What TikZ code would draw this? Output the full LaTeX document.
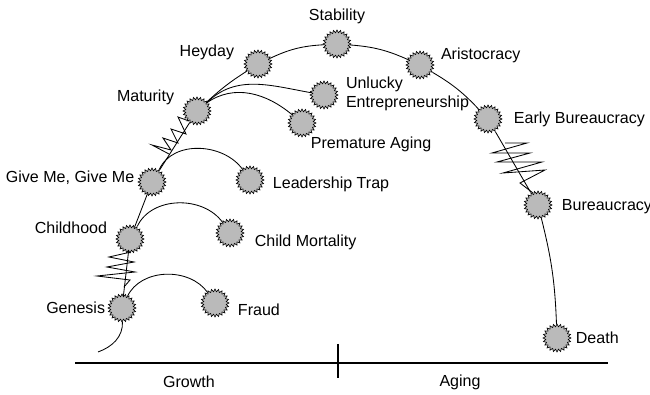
\documentclass[tikz,border=0pt]{standalone}
\usepackage{fontspec}
\setmainfont{Liberation Sans}
\usetikzlibrary{positioning,shapes.geometric}
\begin{document}
\begin{tikzpicture}[x=0.025cm,y=0.025cm]
\tikzstyle{lifeline} = [line width=0.6pt]
\tikzstyle{stage} = [star, star points=24, star point ratio=1.24, minimum size=0.7cm, inner sep=0pt, draw=black, line width=0.45pt, fill=black!27]
\tikzstyle{stagetext} = [inner sep=0pt, font=\fontsize{11.4}{13.5}\selectfont]
\useasboundingbox (0,0) rectangle (650,394);
% life cycle stages
\node[stage](genesis) at (122,86){};
\node[stage](fraud) at (215,91){};
\node[stage](childhood) at (130,155){};
\node[stage](mortality) at (230,161){};
\node[stage](giveme) at (152,212){};
\node[stage](trap) at (250,214){};
\node[stage](maturity) at (197,283){};
\node[stage](unlucky) at (324,299){};
\node[stage](premature) at (302,271){};
\node[stage](heyday) at (258,330){};
\node[stage](stability) at (337,350){};
\node[stage](aristocracy) at (420,329){};
\node[stage](earlyb) at (488,275){};
\node[stage](bureaucracy) at (538,189){};
\node[stage](death) at (557,56){};
% texts
\node[stagetext, left=1.4pt of genesis](genesistext){Genesis};
\node[stagetext, right=5.7pt of fraud, yshift=-5pt](fraudtext){Fraud};
\node[stagetext, left=5.7pt of childhood, yshift=7.8pt](childhoodtext){Childhood};
\node[stagetext, right=7pt of mortality, yshift=-7pt](mortalitytext){Child Mortality};
\node[stagetext, left=2pt of giveme, yshift=2.8pt](givemetext){Give Me, Give Me};
\node[stagetext, right=5.7pt of trap, yshift=-2.8pt](traptext){Leadership Trap};
\node[stagetext, left=5.7pt of maturity, yshift=10pt](maturitytext){Maturity};
\node[stagetext, right=5pt of unlucky, yshift=0.8pt, align=left](unluckytext){Unlucky\\Entrepreneurship};
\node[stagetext, right=-4.3pt of premature, yshift=-15pt](prematuretext){Premature Aging};
\node[stagetext, left=6.4pt of heyday, yshift=8.5pt](heydaytext){Heyday};
\node[stagetext, above=4pt of stability](stabilitytext){Stability};
\node[stagetext, right=4.3pt of aristocracy, yshift=7pt](aristocracytext){Aristocracy};
\node[stagetext, right=7.8pt of earlyb](earlybtext){Early Bureaucracy};
\node[stagetext, right=6.4pt of bureaucracy, yshift=-1.4pt](bureaucracytext){Bureaucracy};
\node[stagetext, right=2.8pt of death](deathtext){Death};
\node[stagetext](growth) at (189,12){Growth};
\node[stagetext](aging) at (460,12){Aging};
% main curve
\coordinate (tail) at (98,42);
\draw[lifeline] (tail) to[out=20,in=-88] (genesis);
\draw[lifeline] (genesis) -- (childhood);
\draw[lifeline] (childhood) -- (giveme);
\draw[lifeline] (giveme) -- (maturity);
\draw[lifeline] (maturity) to[bend left=5] (heyday);
\draw[lifeline] (heyday) to[bend left=11] (stability);
\draw[lifeline] (stability) to[bend left=10] (aristocracy);
\draw[lifeline] (aristocracy) to[bend left=8] (earlyb);
\draw[lifeline] (earlyb) -- (bureaucracy);
\draw[lifeline] (bureaucracy) to[bend left=6] (death);
% branches
\draw[lifeline] (genesis.65) to[out=65,in=125] (fraud);
\draw[lifeline] (childhood.60) to[out=65,in=125] (mortality);
\draw[lifeline] (giveme.60) to[out=65,in=125] (trap);
\draw[lifeline] (maturity.40) to[out=45,in=170] (unlucky);
\draw[lifeline] (maturity.40) to[out=35,in=140] (premature);
% springs
\draw[lifeline] (131,142) -- (109,137) -- (134,132) -- (107,127) -- (135,122) -- (97,118) -- (130,114) -- (124,107);
\draw[lifeline] (189,273) -- (178,277) -- (186,260) -- (171,265) -- (178,251) -- (163,256) -- (171,244) -- (152,249) -- (169,240);
\draw[lifeline] (505,251) -- (527,251) -- (492,241) -- (530,241) -- (497,232) -- (542,232) -- (503,221) -- (545,224) -- (520,211) -- (533,201);
% axis
\coordinate (axisleft) at (75,31);
\coordinate (axisright) at (608,31);
\coordinate (ticktop) at (338,50);
\coordinate (tickbottom) at (338,16);
\draw[line width=1.6pt] (axisleft) -- (axisright);
\draw[line width=1.4pt] (ticktop) -- (tickbottom);
\end{tikzpicture}
\end{document}
